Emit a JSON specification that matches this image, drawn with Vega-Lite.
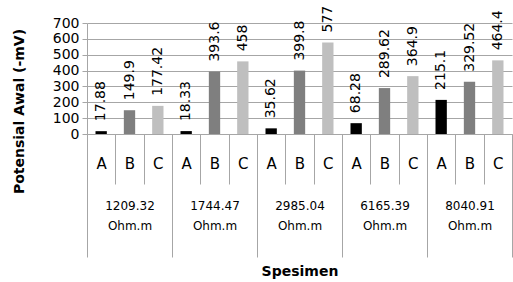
{
  "$schema": "https://vega.github.io/schema/vega-lite/v6.json",
  "width": 425,
  "height": 111,
  "autosize": {"type": "none"},
  "padding": {"left": 87, "top": 23, "right": 1, "bottom": 148},
  "background": "white",
  "config": {
    "view": {"stroke": null},
    "font": "DejaVu Sans"
  },
  "data": {
    "values": [
      {"grp": "1209.32 Ohm.m", "s": "A", "key": "1209.32 Ohm.m|A", "v": 17.88},
      {"grp": "1209.32 Ohm.m", "s": "B", "key": "1209.32 Ohm.m|B", "v": 149.9},
      {"grp": "1209.32 Ohm.m", "s": "C", "key": "1209.32 Ohm.m|C", "v": 177.42},
      {"grp": "1744.47 Ohm.m", "s": "A", "key": "1744.47 Ohm.m|A", "v": 18.33},
      {"grp": "1744.47 Ohm.m", "s": "B", "key": "1744.47 Ohm.m|B", "v": 393.6},
      {"grp": "1744.47 Ohm.m", "s": "C", "key": "1744.47 Ohm.m|C", "v": 458},
      {"grp": "2985.04 Ohm.m", "s": "A", "key": "2985.04 Ohm.m|A", "v": 35.62},
      {"grp": "2985.04 Ohm.m", "s": "B", "key": "2985.04 Ohm.m|B", "v": 399.8},
      {"grp": "2985.04 Ohm.m", "s": "C", "key": "2985.04 Ohm.m|C", "v": 577},
      {"grp": "6165.39 Ohm.m", "s": "A", "key": "6165.39 Ohm.m|A", "v": 68.28},
      {"grp": "6165.39 Ohm.m", "s": "B", "key": "6165.39 Ohm.m|B", "v": 289.62},
      {"grp": "6165.39 Ohm.m", "s": "C", "key": "6165.39 Ohm.m|C", "v": 364.9},
      {"grp": "8040.91 Ohm.m", "s": "A", "key": "8040.91 Ohm.m|A", "v": 215.1},
      {"grp": "8040.91 Ohm.m", "s": "B", "key": "8040.91 Ohm.m|B", "v": 329.52},
      {"grp": "8040.91 Ohm.m", "s": "C", "key": "8040.91 Ohm.m|C", "v": 464.4}
    ]
  },
  "layer": [
    {
      "encoding": {
        "x": {
          "field": "key", "type": "nominal", "sort": null,
          "scale": {"paddingInner": 0, "paddingOuter": 0},
          "axis": {
            "title": null,
            "labelExpr": "split(datum.label, '|')[1]",
            "labelAngle": 0,
            "labelFontSize": 15,
            "labelColor": "black",
            "labelPadding": -28,
            "tickBand": "extent",
            "tickSize": 50,
            "tickColor": "#a6a6a6",
            "domainColor": "#a6a6a6",
            "grid": false
          }
        },
        "y": {
          "field": "v", "type": "quantitative",
          "scale": {"domain": [0, 700], "nice": false},
          "axis": {
            "values": [0, 100, 200, 300, 400, 500, 600, 700],
            "title": "Potensial Awal (-mV)",
            "titleFontSize": 14,
            "titleFontWeight": "bold",
            "titleColor": "black",
            "titleX": -68,
            "titleY": 88,
            "titleBaseline": "middle",
            "titleAlign": "center",
            "labelFontSize": 14,
            "labelColor": "black",
            "labelPadding": 3,
            "tickSize": 5,
            "tickColor": "#a6a6a6",
            "domainColor": "#a6a6a6",
            "gridColor": "#a6a6a6"
          }
        }
      },
      "layer": [
        {
          "mark": {"type": "bar", "width": {"band": 0.4}},
          "encoding": {
            "color": {
              "field": "s", "type": "nominal",
              "scale": {"domain": ["A", "B", "C"], "range": ["#000000", "#7f7f7f", "#bfbfbf"]},
              "legend": null
            }
          }
        },
        {
          "mark": {"type": "text", "angle": 270, "align": "left", "baseline": "middle", "dx": 10, "fontSize": 14, "color": "black"},
          "encoding": {
            "text": {"field": "v", "type": "quantitative"}
          }
        }
      ]
    },
    {
      "mark": {"type": "point", "opacity": 0},
      "encoding": {
        "x": {
          "field": "grp", "type": "nominal", "sort": null,
          "scale": {"paddingInner": 0, "paddingOuter": 0},
          "axis": {
            "orient": "bottom",
            "title": "Spesimen",
            "titleFontSize": 14,
            "titleFontWeight": "bold",
            "titleColor": "black",
            "titlePadding": 7,
            "labelExpr": "split(datum.label, ' ')",
            "labelAngle": 0,
            "labelFontSize": 12,
            "labelLineHeight": 20,
            "labelColor": "black",
            "labelPadding": -57,
            "tickBand": "extent",
            "tickSize": 123,
            "tickColor": "#a6a6a6",
            "domain": false,
            "grid": false
          }
        }
      }
    }
  ],
  "resolve": {"scale": {"x": "independent"}}
}
